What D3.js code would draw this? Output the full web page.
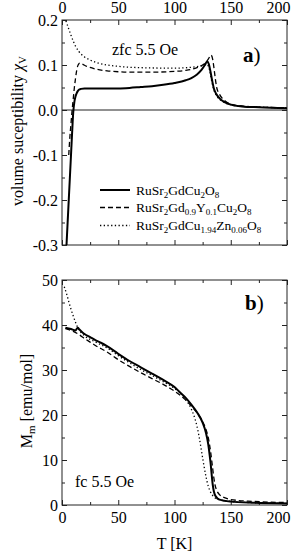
<!DOCTYPE html>
<html>
<head>
<meta charset="utf-8">
<script src="https://cdn.jsdelivr.net/npm/d3@7"></script>
<style>
  body { margin: 0; background: #fff; }
  svg, svg text { font-family: "Liberation Serif", Tinos, "Times New Roman", Times, "Nimbus Roman", serif; fill: #000; }
</style>
</head>
<body>
<div id="chart"></div>
<script>
// ---- data ----
// panel a) zfc volume susceptibility
const tSolidA = [4, 5, 6, 7, 8, 9, 10, 11, 12, 13, 14, 15, 17, 20, 30, 40, 50, 60, 70, 80, 90, 100, 110, 115, 120, 124, 127, 129, 130.5, 132, 133.5, 135, 137, 140, 145, 150, 160, 175, 200];
const chiSolid = [-0.3, -0.25, -0.2, -0.15, -0.1, -0.05, -0.005, 0.018, 0.03, 0.037, 0.042, 0.045, 0.047, 0.048, 0.048, 0.048, 0.048, 0.049, 0.051, 0.053, 0.056, 0.06, 0.066, 0.071, 0.079, 0.089, 0.1, 0.108, 0.102, 0.085, 0.065, 0.048, 0.036, 0.026, 0.017, 0.012, 0.008, 0.006, 0.004];

const tDashA = [6, 7, 8, 9, 10, 11, 12, 13, 14, 15, 16, 18, 22, 30, 40, 50, 60, 80, 100, 110, 120, 125, 128, 130, 132.5, 134, 135, 136, 137.5, 140, 145, 150, 160, 180, 200];
const chiDash = [-0.1, -0.06, -0.03, 0, 0.025, 0.05, 0.07, 0.087, 0.098, 0.103, 0.104, 0.102, 0.097, 0.091, 0.087, 0.085, 0.084, 0.084, 0.086, 0.088, 0.094, 0.1, 0.106, 0.113, 0.122, 0.112, 0.095, 0.075, 0.05, 0.035, 0.02, 0.013, 0.009, 0.006, 0.005];

const tDotA = [3.5, 6, 8, 10, 12, 15, 20, 25, 30, 40, 50, 70, 100, 115, 125, 128, 130, 131.5, 133, 135, 137, 140, 145, 150, 160, 200];
const chiDot = [0.198, 0.18, 0.166, 0.153, 0.142, 0.13, 0.118, 0.111, 0.106, 0.1, 0.097, 0.094, 0.093, 0.095, 0.099, 0.101, 0.098, 0.085, 0.065, 0.045, 0.033, 0.024, 0.016, 0.012, 0.008, 0.005];

// panel b) fc molar magnetisation
const tSolidB = [3, 8, 12, 14, 15.5, 18, 20, 25, 30, 35, 40, 50, 60, 70, 80, 90, 100, 105, 110, 115, 120, 125, 128, 130, 132, 134, 135, 137, 140, 150, 170, 200];
const mSolid = [39.4, 39.1, 38.8, 39.4, 39.0, 38.4, 38.0, 37.3, 36.6, 36.0, 35.3, 33.6, 32.0, 30.6, 29.2, 27.8, 26.2, 25.0, 23.8, 22.3, 20.6, 18.3, 16.0, 13.5, 9.5, 4.5, 3.0, 1.8, 1.2, 0.75, 0.5, 0.35];

const tDashB = [3, 10, 15, 20, 25, 30, 40, 50, 60, 70, 80, 90, 100, 110, 115, 120, 125, 128, 130, 132, 134, 135, 136, 138, 140, 145, 150, 170, 200];
const mDash = [39.2, 38.6, 37.9, 37.0, 36.2, 35.4, 34.0, 32.3, 30.8, 29.4, 28.1, 26.8, 25.3, 23.3, 22.0, 20.5, 18.5, 16.8, 15.0, 12.0, 8.0, 6.0, 4.5, 3.0, 2.3, 1.6, 1.2, 0.8, 0.55];

const tDotB = [2, 4, 6, 8, 10, 12, 14, 16, 20, 30, 40, 50, 60, 70, 80, 90, 100, 105, 110, 115, 118, 120, 122, 124, 126, 128, 130, 132, 135, 140, 150, 170, 200];
const mDot = [48.5, 47.0, 45.2, 43.5, 42.0, 40.6, 39.4, 38.6, 37.6, 36.2, 34.9, 33.2, 31.6, 30.1, 28.8, 27.4, 25.9, 24.9, 23.4, 21.3, 19.3, 17.5, 15.0, 12.0, 9.0, 6.3, 4.2, 2.9, 1.8, 1.2, 0.8, 0.5, 0.35];

// tick labels
const tTicks = [0, 50, 100, 150, 200];
const tMinor = [25, 75, 125, 175];
const chiTicks = [-0.3, -0.2, -0.1, 0.0, 0.1, 0.2];
const chiMinor = [-0.25, -0.15, -0.05, 0.05, 0.15];
const mTicks = [0, 10, 20, 30, 40, 50];
const mMinor = [5, 15, 25, 35, 45];

// legend text, [text, isSubscript]
const legendLabels = [
  [["RuSr", 0], ["2", 1], ["GdCu", 0], ["2", 1], ["O", 0], ["8", 1]],
  [["RuSr", 0], ["2", 1], ["Gd", 0], ["0.9", 1], ["Y", 0], ["0.1", 1], ["Cu", 0], ["2", 1], ["O", 0], ["8", 1]],
  [["RuSr", 0], ["2", 1], ["GdCu", 0], ["1.94", 1], ["Zn", 0], ["0.06", 1], ["O", 0], ["8", 1]]
];

// line styles per sample (solid, dashed, dotted)
const STYLES = [
  { width: 2, dash: null },
  { width: 1.3, dash: "5,3" },
  { width: 1.3, dash: "1.3,2.4" }
];

const FONT = '"Liberation Serif", Tinos, "Times New Roman", Times, "Nimbus Roman", serif';
const WIDTH = 300, HEIGHT = 554;
const X0 = 62, X1 = 287;

const svg = d3.select("#chart").append("svg")
  .attr("width", WIDTH)
  .attr("height", HEIGHT)
  .attr("font-family", FONT);

const x = d3.scaleLinear().domain([0, 200]).range([X0, X1]);
const yA = d3.scaleLinear().domain([-0.3, 0.2]).range([245, 20]);
const yB = d3.scaleLinear().domain([0, 50]).range([505, 280]);

function zipSeries(ts, vs) {
  return ts.map((t, i) => ({ t: t, v: vs[i] }));
}

function drawFrame(y, yTicks, yMinor, yFormat, topLabels, bottomLabels) {
  const g = svg.append("g");
  const [top, bottom] = [y.range()[1], y.range()[0]];

  // major / minor ticks on all four sides, pointing inward
  const axes = [
    { ax: d3.axisTop(x), pos: `translate(0,${top})`, vals: tTicks, minor: tMinor, label: topLabels, horiz: true },
    { ax: d3.axisBottom(x), pos: `translate(0,${bottom})`, vals: tTicks, minor: tMinor, label: bottomLabels, horiz: true },
    { ax: d3.axisLeft(y), pos: `translate(${X0},0)`, vals: yTicks, minor: yMinor, label: true, fmt: yFormat },
    { ax: d3.axisRight(y), pos: `translate(${X1},0)`, vals: yTicks, minor: yMinor, label: false }
  ];
  axes.forEach(a => {
    const major = g.append("g").attr("transform", a.pos)
      .call(a.ax.tickValues(a.vals).tickSize(-5).tickSizeOuter(0).tickPadding(a.fmt ? 4 : 7)
        .tickFormat(a.label ? (a.fmt || d3.format("d")) : ""));
    major.attr("font-family", FONT);
    major.select(".domain").remove();
    major.selectAll("text").style("font-size", "16px").style("font-family", FONT);
    // last T label pulled in so it stays on the page
    if (a.horiz) major.selectAll(".tick text").filter(d => d === 200).attr("dx", -9);
    const minor = g.append("g").attr("transform", a.pos)
      .call(a.ax.tickValues(a.minor).tickSize(-3).tickFormat(""));
    minor.select(".domain").remove();
  });
  g.selectAll(".tick line").attr("stroke", "#222");

  g.append("rect")
    .attr("x", X0).attr("y", top)
    .attr("width", X1 - X0).attr("height", bottom - top)
    .attr("fill", "none").attr("stroke", "#222").attr("stroke-width", 1);
}

function drawSeries(y, list) {
  const line = d3.line()
    .x(d => x(d.t))
    .y(d => y(d.v))
    .curve(d3.curveMonotoneX);
  list.forEach((data, i) => {
    svg.append("path")
      .datum(data)
      .attr("fill", "none")
      .attr("stroke", "#000")
      .attr("stroke-width", STYLES[i].width)
      .attr("stroke-dasharray", STYLES[i].dash)
      .attr("stroke-linejoin", "round")
      .attr("d", line);
  });
}

// ---- panel a ----
drawFrame(yA, chiTicks, chiMinor, d => d.toFixed(1), true, false);

// zero line
svg.append("line")
  .attr("x1", X0).attr("x2", X1)
  .attr("y1", yA(0)).attr("y2", yA(0))
  .attr("stroke", "#222").attr("stroke-width", 1);

drawSeries(yA, [
  zipSeries(tSolidA, chiSolid),
  zipSeries(tDashA, chiDash),
  zipSeries(tDotA, chiDot)
]);

svg.append("text")
  .attr("x", 112).attr("y", 55)
  .style("font-size", "16px")
  .text("zfc 5.5 Oe");

const labA = svg.append("text").attr("x", 243).attr("y", 62).style("font-size", "21px");
labA.append("tspan").attr("font-weight", "bold").text("a");
labA.append("tspan").text(")");

// y label panel a
const ylabA = svg.append("text")
  .attr("transform", "translate(23,131) rotate(-90)")
  .attr("text-anchor", "middle")
  .style("font-size", "16px");
ylabA.append("tspan").text("volume suceptibility ");
ylabA.append("tspan").style("font-style", "italic").text("\u03c7");
ylabA.append("tspan").attr("dy", 3).style("font-size", "11px").text("V");

// legend
legendLabels.forEach((parts, i) => {
  const ly = [190, 207.5, 225.5][i];
  svg.append("line")
    .attr("x1", 100).attr("x2", 130)
    .attr("y1", ly).attr("y2", ly)
    .attr("stroke", "#000")
    .attr("stroke-width", STYLES[i].width)
    .attr("stroke-dasharray", STYLES[i].dash);
  const txt = svg.append("text")
    .attr("x", 136).attr("y", ly + 4.5)
    .style("font-size", "13.5px");
  let sub = 0;
  parts.forEach(p => {
    const dy = p[1] ? (sub ? 0 : 3) : (sub ? -3 : 0);
    sub = p[1];
    txt.append("tspan")
      .attr("dy", dy)
      .style("font-size", p[1] ? "9px" : "13.5px")
      .text(p[0]);
  });
});

// ---- panel b ----
drawFrame(yB, mTicks, mMinor, d3.format("d"), false, true);

drawSeries(yB, [
  zipSeries(tSolidB, mSolid),
  zipSeries(tDashB, mDash),
  zipSeries(tDotB, mDot)
]);

const labB = svg.append("text").attr("x", 245).attr("y", 310).style("font-size", "21px");
labB.append("tspan").attr("font-weight", "bold").text("b");
labB.append("tspan").text(")");

svg.append("text")
  .attr("x", 75).attr("y", 487)
  .style("font-size", "16px")
  .text("fc 5.5 Oe");

const ylabB = svg.append("text")
  .attr("transform", "translate(32,401) rotate(-90)")
  .attr("text-anchor", "middle")
  .style("font-size", "16px");
ylabB.append("tspan").text("M");
ylabB.append("tspan").attr("dy", 3).style("font-size", "11px").text("m");
ylabB.append("tspan").attr("dy", -3).text(" [emu/mol]");

svg.append("text")
  .attr("x", (X0 + X1) / 2).attr("y", 549)
  .attr("text-anchor", "middle")
  .style("font-size", "16px")
  .text("T [K]");
</script>
</body>
</html>
